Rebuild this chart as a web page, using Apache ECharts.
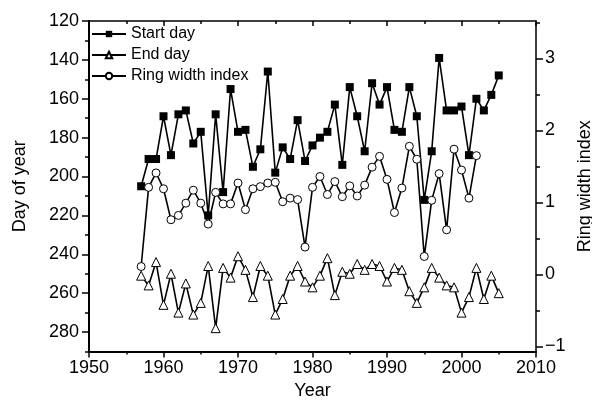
<!DOCTYPE html>
<html><head><meta charset="utf-8">
<script src="https://cdn.jsdelivr.net/npm/echarts@6/dist/echarts.min.js"></script>
<style>html,body{margin:0;padding:0;background:#fff}#c{width:592px;height:401px}</style>
</head><body><div id="c"></div>
<script>
const years = [1957,1958,1959,1960,1961,1962,1963,1964,1965,1966,1967,1968,1969,1970,1971,1972,1973,1974,1975,1976,1977,1978,1979,1980,1981,1982,1983,1984,1985,1986,1987,1988,1989,1990,1991,1992,1993,1994,1995,1996,1997,1998,1999,2000,2001,2002,2003,2004,2005];
const startDay = [205,191,191,169,189,168,166,183,177,220,168,208,155,177,176,195,186,146,198,185,191,171,192,184,180,177,163,194,154,169,187,152,163,154,176,177,154,169,212,187,139,166,166,164,189,160,166,158,148];
const endDay = [251,256,244,266,250,270,255,271,265,246,278,247,252,241,248,262,246,251,271,263,251,246,254,257,251,242,261,249,250,245,248,245,246,254,247,248,259,265,257,247,252,256,257,270,262,247,263,251,260];
const ringYears = [1957,1958,1959,1960,1961,1962,1963,1964,1965,1966,1967,1968,1969,1970,1971,1972,1973,1974,1975,1976,1977,1978,1979,1980,1981,1982,1983,1984,1985,1986,1987,1988,1989,1990,1991,1992,1993,1994,1995,1996,1997,1998,1999,2000,2001,2002];
const ringWidth = [0.11,1.21,1.41,1.19,0.76,0.82,0.99,1.17,0.99,0.70,1.14,0.98,0.98,1.27,0.90,1.19,1.22,1.27,1.28,1.01,1.06,1.04,0.38,1.21,1.36,1.11,1.29,1.08,1.23,1.09,1.24,1.49,1.64,1.32,0.86,1.20,1.78,1.60,0.25,1.03,1.40,0.62,1.74,1.45,1.06,1.65];
const leftTicks = [120,140,160,180,200,220,240,260,280];
const leftMinorTicks = [130,150,170,190,210,230,250,270,290];
const rightTicks = [-1,0,1,2,3];
const rightMinorTicks = [-0.5,0.5,1.5,2.5,3.5];

const FONT = '"Liberation Sans", Arial, sans-serif';
const black = '#000';
const chart = echarts.init(document.getElementById('c'), null, {renderer: 'canvas'});
const lblStyle = {color: black, fontFamily: FONT, fontSize: 18};
chart.setOption({
  animation: false,
  backgroundColor: '#fff',
  grid: {left: 89, right: 56, top: 21, bottom: 49.5, containLabel: false, outerBoundsMode: 'none'},
  legend: {
    left: 86, top: 21, orient: 'vertical', itemWidth: 34, itemHeight: 8, itemGap: 5,
    textStyle: {color: black, fontFamily: FONT, fontSize: 16},
    data: ['Start day', 'End day', 'Ring width index']
  },
  xAxis: [
    {type: 'value', min: 1950, max: 2010, interval: 10, position: 'bottom',
     name: 'Year', nameLocation: 'middle', nameGap: 30,
     nameTextStyle: {color: black, fontFamily: FONT, fontSize: 18},
     axisLine: {onZero: false, lineStyle: {color: black, width: 2}},
     axisTick: {length: 6, lineStyle: {color: black, width: 1.5}},
     minorTick: {show: true, splitNumber: 2, length: 3, lineStyle: {color: black, width: 1.5}},
     splitLine: {show: false},
     axisLabel: Object.assign({margin: 8, formatter: v => String(v)}, lblStyle)},
    {type: 'value', min: 1950, max: 2010, interval: 10, position: 'top',
     axisLine: {onZero: false, lineStyle: {color: black, width: 1.5}},
     axisTick: {inside: true, length: 5, lineStyle: {color: black, width: 1.5}},
     minorTick: {show: true, splitNumber: 2, length: 3, lineStyle: {color: black, width: 1.5}},
     splitLine: {show: false}, axisLabel: {show: false}}
  ],
  yAxis: [
    {type: 'value', inverse: true, min: 120, max: 290, position: 'left',
     name: 'Day of year', nameLocation: 'middle', nameGap: 60,
     nameTextStyle: {color: black, fontFamily: FONT, fontSize: 18},
     axisLine: {show: true, onZero: false, lineStyle: {color: black, width: 2}},
     axisTick: {customValues: leftTicks, length: 7, lineStyle: {color: black, width: 1.5}},
     axisLabel: Object.assign({customValues: leftTicks, margin: 10}, lblStyle),
     splitLine: {show: false}},
    {type: 'value', inverse: true, min: 120, max: 290, position: 'left',
     axisLine: {show: false, onZero: false},
     axisTick: {customValues: leftMinorTicks, length: 4, lineStyle: {color: black, width: 1.5}},
     axisLabel: {show: false}, splitLine: {show: false}},
    {type: 'value', min: -1.07, max: 3.52, position: 'right',
     name: 'Ring width index', nameLocation: 'middle', nameGap: 26, nameRotate: 90,
     nameTextStyle: {color: black, fontFamily: FONT, fontSize: 18},
     axisLine: {show: true, onZero: false, lineStyle: {color: black, width: 1.5}},
     axisTick: {customValues: rightTicks, length: 7, lineStyle: {color: black, width: 1.5}},
     axisLabel: Object.assign({customValues: rightTicks, margin: 9,
       formatter: v => String(v).replace('-', '\u2212')}, lblStyle),
     splitLine: {show: false}},
    {type: 'value', min: -1.07, max: 3.52, position: 'right',
     axisLine: {show: false, onZero: false},
     axisTick: {customValues: rightMinorTicks, length: 4, lineStyle: {color: black, width: 1.5}},
     axisLabel: {show: false}, splitLine: {show: false}}
  ],
  series: [
    {name: 'Start day', type: 'line', xAxisIndex: 0, yAxisIndex: 0,
     data: years.map((y, i) => [y, startDay[i]]),
     symbol: 'rect', symbolSize: 8, showAllSymbol: true,
     lineStyle: {color: black, width: 1.6}, itemStyle: {color: black}},
    {name: 'End day', type: 'line', xAxisIndex: 0, yAxisIndex: 0,
     data: years.map((y, i) => [y, endDay[i]]),
     symbol: 'triangle', symbolSize: 9, showAllSymbol: true,
     lineStyle: {color: black, width: 1.6},
     itemStyle: {color: '#fff', borderColor: black, borderWidth: 1}},
    {name: 'Ring width index', type: 'line', xAxisIndex: 0, yAxisIndex: 2,
     data: ringYears.map((y, i) => [y, ringWidth[i]]),
     symbol: 'circle', symbolSize: 8, showAllSymbol: true,
     lineStyle: {color: black, width: 1.6},
     itemStyle: {color: '#fff', borderColor: black, borderWidth: 1}}
  ]
});
</script></body></html>
